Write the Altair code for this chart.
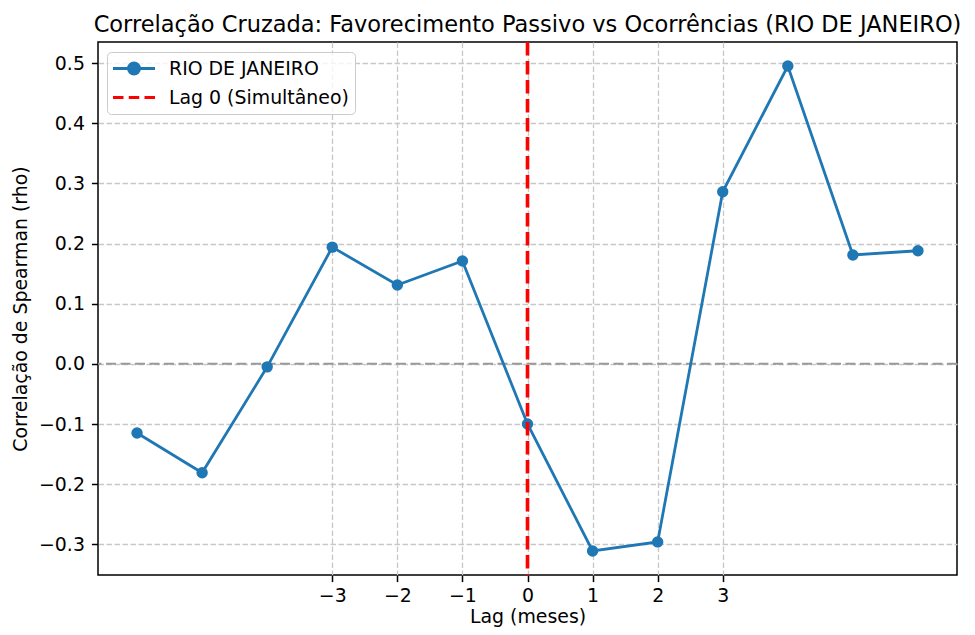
import altair as alt
import pandas as pd

# ---- data ----
lags = [-6, -5, -4, -3, -2, -1, 0, 1, 2, 3, 4, 5, 6]
rho = [-0.115, -0.181, -0.005, 0.194, 0.131, 0.171, -0.100,
       -0.311, -0.296, 0.286, 0.495, 0.181, 0.188]
x_ticks = [-3, -2, -1, 0, 1, 2, 3]
y_ticks = [-0.3, -0.2, -0.1, 0.0, 0.1, 0.2, 0.3, 0.4, 0.5]
legend_names = ["RIO DE JANEIRO", "Lag 0 (Simultâneo)"]
vline_at = [0]
hline_at = [0.0]

title_text = "Correlação Cruzada: Favorecimento Passivo vs Ocorrências (RIO DE JANEIRO)"
x_title = "Lag (meses)"
y_title = "Correlação de Spearman (rho)"

BLUE = "#1f77b4"
RED = "#ff0000"
FONT = "DejaVu Sans"

series_df = pd.DataFrame({"lag": lags, "rho": rho})
vline_df = pd.DataFrame({"lag": vline_at})
hline_df = pd.DataFrame({"rho": hline_at})
legend_df = pd.DataFrame({"serie": legend_names})

x_enc = alt.X(
    "lag:Q",
    scale=alt.Scale(domain=[-6.6, 6.6], nice=False, zero=False),
    axis=alt.Axis(values=x_ticks, format="d", title=x_title),
)
y_enc = alt.Y(
    "rho:Q",
    scale=alt.Scale(domain=[-0.351, 0.535], nice=False, zero=False),
    axis=alt.Axis(values=y_ticks, format=".1f", title=y_title),
)

zero_line = alt.Chart(hline_df).mark_rule(
    color="#999999", strokeWidth=2, strokeDash=[10, 4.5]
).encode(y=y_enc)

line = alt.Chart(series_df).mark_line(color=BLUE, strokeWidth=2.8).encode(x=x_enc, y=y_enc)

points = alt.Chart(series_df).mark_point(
    filled=True, color=BLUE, size=130, opacity=1, shape="circle"
).encode(x=x_enc, y=y_enc)

vline = alt.Chart(vline_df).mark_rule(
    color=RED, strokeWidth=3.6, strokeDash=[13.5, 5.5]
).encode(x=x_enc)

# legend symbols: line with marker, and dashed line
sym_line_marker = ("M-1,0L1,0M0.26,0A0.26,0.26,0,1,1,-0.26,0"
                   "A0.26,0.26,0,1,1,0.26,0Z")
sym_dashed = "M-1,0L-0.5,0M-0.25,0L0.25,0M0.5,0L1,0"

leg = alt.Legend(
    title=None,
    orient="none",
    legendX=9,
    legendY=10,
    padding=5.5,
    clipHeight=22,
    rowPadding=7,
    symbolSize=1764,
    symbolStrokeWidth=3,
    symbolOffset=-1,
    labelOffset=12.5,
    labelFontSize=18.9,
    labelFont=FONT,
    labelColor="black",
    labelLimit=400,
    fillColor="rgba(255,255,255,0.8)",
    strokeColor="#cccccc",
    cornerRadius=4,
)

legend_layer = alt.Chart(legend_df).transform_filter("false").mark_point(
    filled=True, opacity=1
).encode(
    shape=alt.Shape("serie:N", scale=alt.Scale(domain=legend_names,
                                               range=[sym_line_marker, sym_dashed]),
                    legend=leg),
    fill=alt.Fill("serie:N", scale=alt.Scale(domain=legend_names, range=[BLUE, RED]),
                  legend=leg),
    stroke=alt.Stroke("serie:N", scale=alt.Scale(domain=legend_names, range=[BLUE, RED]),
                      legend=leg),
)

chart = alt.layer(zero_line, line, points, vline, legend_layer).properties(
    width=859,
    height=533,
    autosize=alt.AutoSizeParams(type="none"),
    padding={"left": 90, "top": 34, "right": 10, "bottom": 52},
    title=alt.Title(
        title_text, fontSize=22.5, font=FONT, fontWeight="normal", color="black",
        anchor="middle", frame="group", baseline="alphabetic", offset=-14,
    ),
).configure_view(
    stroke="black", strokeWidth=1.5
).configure_axis(
    domain=False,
    labelFont=FONT, labelFontSize=18.9, labelColor="black",
    titleFont=FONT, titleFontSize=18.9, titleColor="black", titleFontWeight="normal",
    tickColor="black", tickSize=6.6, tickWidth=1.5, labelPadding=7,
    titlePadding=8,
    grid=True, gridColor="#c8c8c8", gridWidth=1.3, gridDash=[5.6, 2.4],
).configure_axisX(
    labelPadding=5, titlePadding=2
)

chart.save("out.html", embed_options={"renderer": "svg", "actions": False})
